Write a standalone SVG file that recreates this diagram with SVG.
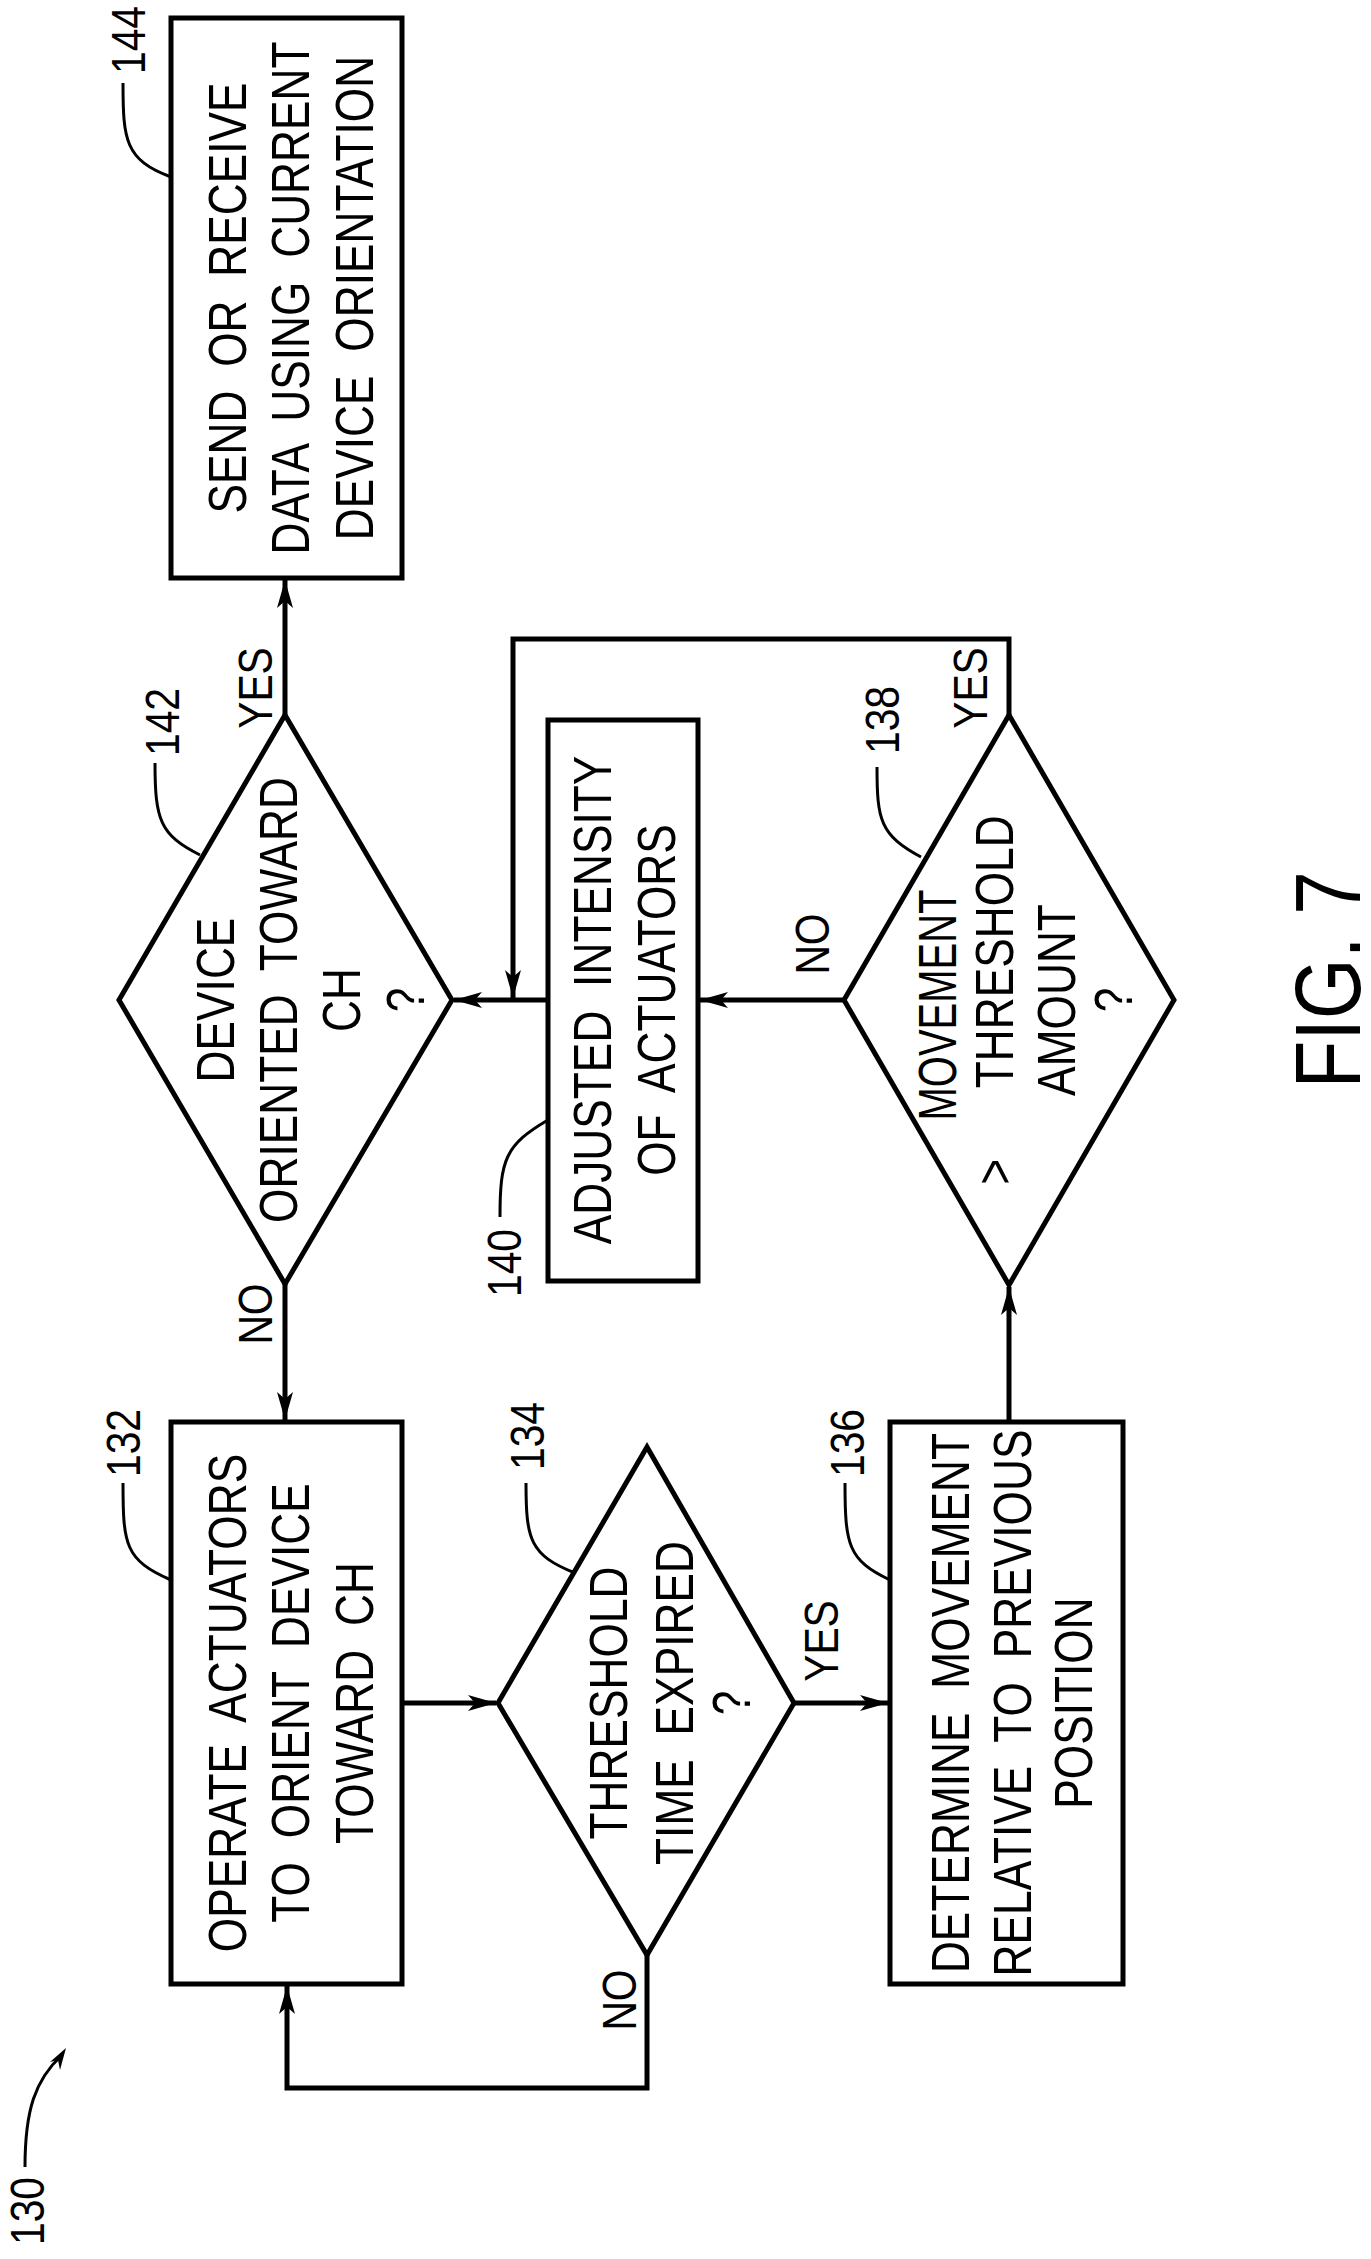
<svg xmlns="http://www.w3.org/2000/svg" width="1371" height="2259" viewBox="0 0 1371 2259">
<style>
.s{fill:none;stroke:#000;stroke-width:5}
.t{font-family:"Liberation Sans",Arial,sans-serif;font-size:54px;fill:#000;text-anchor:middle;word-spacing:14px}
.n{font-family:"Liberation Sans",Arial,sans-serif;font-size:48px;fill:#000;text-anchor:middle}
.l{fill:none;stroke:#000;stroke-width:3}
</style>
<defs>
<marker id="a" markerUnits="userSpaceOnUse" markerWidth="30" markerHeight="20" refX="28" refY="10" orient="auto">
<path d="M0,2 L28,10 L0,18 L7,10 Z" fill="#000"/>
</marker>
</defs>
<rect width="1371" height="2259" fill="#fff"/>
<g id="connectors">
<line class="s" x1="285" y1="715" x2="285" y2="580" marker-end="url(#a)"/>
<line class="s" x1="285" y1="1284" x2="285" y2="1420" marker-end="url(#a)"/>
<line class="s" x1="548" y1="1000" x2="454" y2="1000" marker-end="url(#a)"/>
<line class="s" x1="844" y1="1000" x2="700" y2="1000" marker-end="url(#a)"/>
<polyline class="s" points="1009,715 1009,639 513,639 513,998" marker-end="url(#a)"/>
<line class="s" x1="402" y1="1703" x2="496" y2="1703" marker-end="url(#a)"/>
<line class="s" x1="794" y1="1703" x2="888" y2="1703" marker-end="url(#a)"/>
<line class="s" x1="1009" y1="1422" x2="1009" y2="1287" marker-end="url(#a)"/>
<polyline class="s" points="647,1955 647,2088 287,2088 287,1986" marker-end="url(#a)"/>
<text class="n" transform="translate(272,688) rotate(-90) scale(0.85,1)">YES</text>
<text class="n" transform="translate(987,688) rotate(-90) scale(0.85,1)">YES</text>
<text class="n" transform="translate(272,1314) rotate(-90) scale(0.85,1)">NO</text>
<text class="n" transform="translate(829,944) rotate(-90) scale(0.85,1)">NO</text>
<text class="n" transform="translate(838,1641) rotate(-90) scale(0.85,1)">YES</text>
<text class="n" transform="translate(636,2000) rotate(-90) scale(0.85,1)">NO</text>
</g>
<g id="n144">
<rect class="s" x="171" y="18" width="231" height="560"/>
<text class="t" transform="translate(246,298) rotate(-90) scale(0.82,1)">SEND OR RECEIVE</text>
<text class="t" transform="translate(309,298) rotate(-90) scale(0.82,1)">DATA USING CURRENT</text>
<text class="t" transform="translate(373,298) rotate(-90) scale(0.82,1)">DEVICE ORIENTATION</text>
<text class="n" transform="translate(145,40) rotate(-90) scale(0.85,1)">144</text>
<path class="l" d="M123,83 C123,140 125,160 171,177"/>
</g>
<g id="n142">
<polygon class="s" points="285,715 452,1000 285,1284 119,1000"/>
<text class="t" transform="translate(234,1000) rotate(-90) scale(0.82,1)">DEVICE</text>
<text class="t" transform="translate(297,1000) rotate(-90) scale(0.82,1)">ORIENTED TOWARD</text>
<text class="t" transform="translate(360,1000) rotate(-90) scale(0.82,1)">CH</text>
<text class="t" transform="translate(424,1000) rotate(-90) scale(0.82,1)">?</text>
<text class="n" transform="translate(179,722) rotate(-90) scale(0.85,1)">142</text>
<path class="l" d="M155,763 C155,820 160,835 200,855"/>
</g>
<g id="n140">
<rect class="s" x="548" y="720" width="150" height="561"/>
<text class="t" transform="translate(611,1000) rotate(-90) scale(0.82,1)">ADJUSTED INTENSITY</text>
<text class="t" transform="translate(675,1000) rotate(-90) scale(0.82,1)">OF ACTUATORS</text>
<text class="n" transform="translate(521,1263) rotate(-90) scale(0.85,1)">140</text>
<path class="l" d="M500,1217 C500,1160 505,1145 548,1120"/>
</g>
<g id="n138">
<polygon class="s" points="1009,715 1174,1000 1009,1285 844,1000"/>
<text class="t" transform="translate(956,1005) rotate(-90) scale(0.74,1)">MOVEMENT</text>
<text class="t" transform="translate(1013,1000) rotate(-90) scale(0.82,1)" xml:space="preserve">&gt;   THRESHOLD</text>
<text class="t" transform="translate(1075,1000) rotate(-90) scale(0.82,1)">AMOUNT</text>
<text class="t" transform="translate(1132,1000) rotate(-90) scale(0.82,1)">?</text>
<text class="n" transform="translate(899,720) rotate(-90) scale(0.85,1)">138</text>
<path class="l" d="M877,767 C877,820 880,835 921,857"/>
</g>
<g id="n132">
<rect class="s" x="171" y="1422" width="231" height="562"/>
<text class="t" transform="translate(246,1703) rotate(-90) scale(0.82,1)">OPERATE ACTUATORS</text>
<text class="t" transform="translate(309,1703) rotate(-90) scale(0.82,1)">TO ORIENT DEVICE</text>
<text class="t" transform="translate(373,1703) rotate(-90) scale(0.82,1)">TOWARD CH</text>
<text class="n" transform="translate(140,1443) rotate(-90) scale(0.85,1)">132</text>
<path class="l" d="M123,1483 C123,1545 125,1560 171,1580"/>
</g>
<g id="n134">
<polygon class="s" points="647,1447 794,1703 647,1955 498,1703"/>
<text class="t" transform="translate(627,1703) rotate(-90) scale(0.82,1)">THRESHOLD</text>
<text class="t" transform="translate(693,1703) rotate(-90) scale(0.82,1)">TIME EXPIRED</text>
<text class="t" transform="translate(750,1703) rotate(-90) scale(0.82,1)">?</text>
<text class="n" transform="translate(544,1436) rotate(-90) scale(0.85,1)">134</text>
<path class="l" d="M526,1483 C526,1540 530,1555 575,1573"/>
</g>
<g id="n136">
<rect class="s" x="890" y="1422" width="233" height="562"/>
<text class="t" transform="translate(969,1703) rotate(-90) scale(0.82,1)">DETERMINE MOVEMENT</text>
<text class="t" transform="translate(1031,1703) rotate(-90) scale(0.82,1)">RELATIVE TO PREVIOUS</text>
<text class="t" transform="translate(1092,1703) rotate(-90) scale(0.82,1)">POSITION</text>
<text class="n" transform="translate(864,1443) rotate(-90) scale(0.85,1)">136</text>
<path class="l" d="M845,1483 C845,1545 848,1560 890,1580"/>
</g>
<g id="ref130">
<text class="n" transform="translate(44,2211) rotate(-90) scale(0.85,1)">130</text>
<path class="l" d="M25,2167 C25,2110 35,2080 62,2055"/>
<path d="M66,2048 L50,2062 L58,2060 L60,2070 Z" fill="#000"/>
</g>
<text transform="translate(1360,980) rotate(-90) scale(0.85,1)" font-family="Liberation Sans,Arial,sans-serif" font-size="92" text-anchor="middle">FIG. 7</text>
</svg>
